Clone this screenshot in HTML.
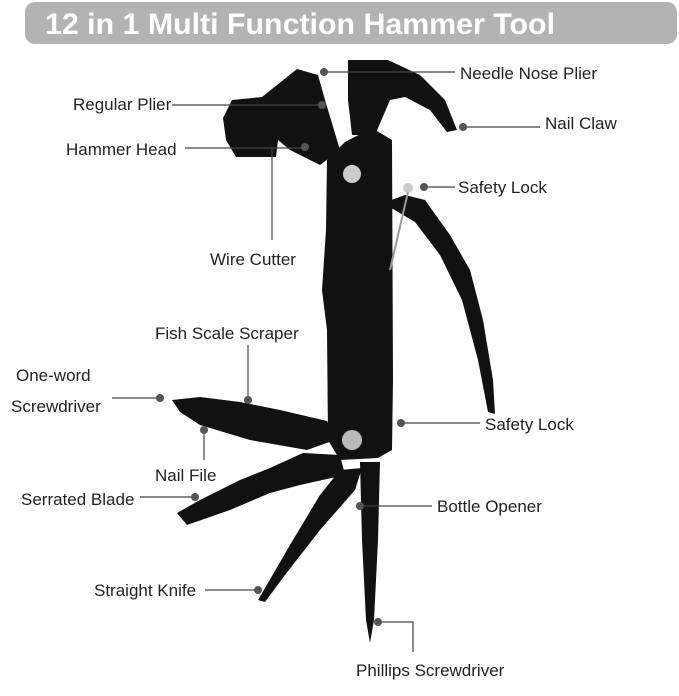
<!DOCTYPE html>
<html><head><meta charset="utf-8"><style>
html,body{margin:0;padding:0;background:#fff;}
body{width:679px;height:696px;overflow:hidden;position:relative;font-family:"Liberation Sans",sans-serif;}
</style></head><body>
<svg width="679" height="696" viewBox="0 0 679 696" xmlns="http://www.w3.org/2000/svg" style="position:absolute;left:0;top:0">
<rect x="25" y="2" width="652" height="42" rx="10" fill="#b3b3b3"/>
<text x="45" y="34" font-size="30" fill="#fff" font-weight="bold" textLength="510" lengthAdjust="spacingAndGlyphs" font-family="Liberation Sans, sans-serif">12 in 1 Multi Function Hammer Tool</text>

<g fill="#111">
<!-- hammer head -->
<polygon points="232,100 262,97 297,69 318,75 325,100 340,150 320,165 290,150 278,140 276,157 236,157 226,140 223,118"/>
<!-- claw -->
<polygon points="348,60 388,60 420,75 445,100 457,130 447,132 430,110 405,97 390,100 375,135 352,135 348,100"/>
<!-- handle -->
<polygon points="327,160 345,142 372,128 392,140 393,380 392,450 378,458 340,460 328,440 327,330 322,290 326,230"/>
<!-- safety arm -->
<polygon points="383,203 405,195 425,200 450,235 470,270 483,320 493,380 495,414 488,412 478,360 462,300 440,255 415,222 398,212"/>
<!-- file -->
<polygon points="172,400 200,397 240,402 280,410 327,421 335,440 307,450 250,440 200,425 180,412"/>
<!-- serrated -->
<polygon points="177,513 200,500 240,480 270,468 303,453 340,455 345,475 300,485 270,493 230,510 187,525"/>
<!-- knife -->
<polygon points="258,600 290,545 320,495 340,470 362,468 355,490 320,530 285,575 265,602"/>
<!-- phillips -->
<polygon points="360,462 380,462 378,540 374,620 370,643 366,620 362,540"/>
</g>
<circle cx="352" cy="174" r="9" fill="#ccc"/>
<circle cx="352" cy="440" r="10" fill="#bbb"/>
<circle cx="408" cy="188" r="5" fill="#ccc"/>
<line x1="408" y1="192" x2="390" y2="270" stroke="#999" stroke-width="2"/>

<g stroke="#444" stroke-width="1.2" fill="none">
<line x1="324" y1="72" x2="455" y2="72"/>
<line x1="172" y1="105" x2="322" y2="105"/>
<line x1="463" y1="127" x2="540" y2="127"/>
<line x1="185" y1="148" x2="305" y2="148"/>
<line x1="424" y1="187" x2="455" y2="187"/>
<line x1="272" y1="148" x2="272" y2="240"/>
<line x1="248" y1="345" x2="248" y2="400"/>
<line x1="112" y1="398" x2="160" y2="398"/>
<line x1="401" y1="423" x2="480" y2="423"/>
<line x1="204" y1="428" x2="204" y2="460"/>
<line x1="140" y1="497" x2="195" y2="497"/>
<line x1="360" y1="506" x2="432" y2="506"/>
<line x1="205" y1="590" x2="258" y2="590"/>
<polyline points="378,622 413,622 413,652"/>
</g>
<g fill="#555">
<circle cx="324" cy="72" r="4"/><circle cx="322" cy="105" r="4"/><circle cx="463" cy="127" r="4"/>
<circle cx="305" cy="147" r="4"/><circle cx="424" cy="187" r="4"/><circle cx="248" cy="400" r="4"/>
<circle cx="160" cy="398" r="4"/><circle cx="401" cy="423" r="4"/><circle cx="204" cy="430" r="4"/>
<circle cx="195" cy="497" r="4"/><circle cx="360" cy="506" r="4"/><circle cx="258" cy="590" r="4"/>
<circle cx="378" cy="622" r="4"/>
</g>
<g font-size="17" fill="#222" font-family="Liberation Sans, sans-serif">
<text x="460" y="79">Needle Nose Plier</text>
<text x="73" y="110">Regular Plier</text>
<text x="545" y="129">Nail Claw</text>
<text x="66" y="155">Hammer Head</text>
<text x="458" y="193">Safety Lock</text>
<text x="210" y="265">Wire Cutter</text>
<text x="155" y="339">Fish Scale Scraper</text>
<text x="16" y="381">One-word</text>
<text x="11" y="412">Screwdriver</text>
<text x="485" y="430">Safety Lock</text>
<text x="155" y="481">Nail File</text>
<text x="21" y="505">Serrated Blade</text>
<text x="437" y="512">Bottle Opener</text>
<text x="94" y="596">Straight Knife</text>
<text x="356" y="676">Phillips Screwdriver</text>
</g>
</svg>
</body></html>
